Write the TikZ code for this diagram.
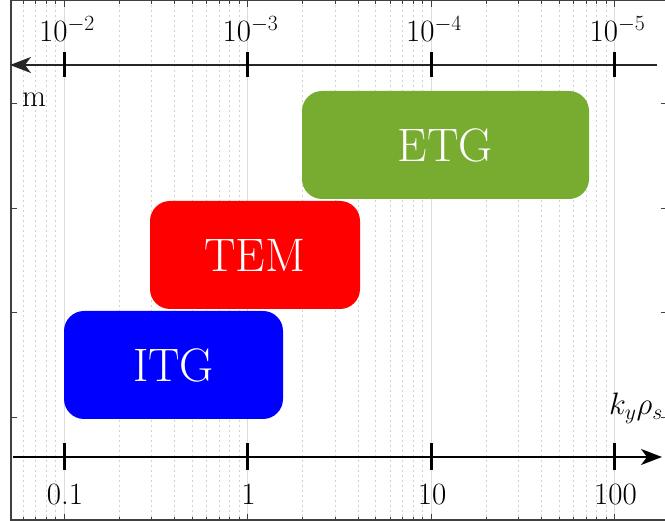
\RequirePackage{fix-cm}
\documentclass[tikz,border=0pt]{standalone}
\usetikzlibrary{arrows.meta}
\definecolor{etggreen}{RGB}{119,172,48}
\begin{document}
\begin{tikzpicture}[x=1pt,y=-1pt,
  gridmajor/.style={draw=black!14, line width=1pt},
  gridminor/.style={draw=black!18, line width=0.9pt, dash pattern=on 2pt off 3pt},
  frameline/.style={draw=black!75, line width=1.3pt},
  axisline/.style={draw=black!85, line width=2pt},
  ticmark/.style={draw=black, line width=3pt},
  lbl/.style={font=\fontsize{31}{37}\selectfont, inner sep=0pt},
  regionbox/.style={rounded corners=20pt, inner sep=0pt, text=white, font=\fontsize{47}{56}\selectfont},
  tiparrow/.style={-{Stealth[length=21pt,width=16pt,inset=6pt]}},
]
\useasboundingbox (0,0) rectangle (665,521);
\clip (0,0) rectangle (665,521);
% grid and frame ticks
\begin{scope}
\clip (11,0) rectangle (667,521);
\foreach \dec in {-119.5,64,247.5,431,614.5}{
  \draw[gridmajor] (\dec,0) -- (\dec,521);
  \draw[frameline,line width=1pt] (\dec,0) -- (\dec,7) (\dec,521) -- (\dec,514);
  \foreach \off in {55.2,87.6,110.5,128.3,142.8,155.1,165.7,175.1}{
    \draw[gridminor] (\dec+\off,0) -- (\dec+\off,521);
    \draw[frameline,line width=1pt] (\dec+\off,0) -- (\dec+\off,4) (\dec+\off,521) -- (\dec+\off,517);
  }
}
\end{scope}
% frame
\draw[frameline] (11,0) rectangle (667,520);
\foreach \yy in {104,209,313,418}{
  \draw[frameline,line width=1pt] (11,\yy) -- (17,\yy) (661,\yy) -- (667,\yy);
}
% boxes
\node[regionbox, fill=blue, minimum width=219pt, minimum height=108pt] (itg) at (173.5,365) {ITG};
\node[regionbox, fill=red, minimum width=210pt, minimum height=108pt] (tem) at (255,255) {TEM};
\node[regionbox, fill=etggreen, minimum width=287pt, minimum height=108pt] (etg) at (445.5,145) {ETG};
% top axis
\coordinate (tl) at (10,65);
\coordinate (tr) at (657,65);
\draw[axisline,tiparrow] (tr) -- (tl);
\foreach \x/\t in {64/-2,247.5/-3,431/-4,614.5/-5}{
  \draw[ticmark] (\x,52) -- (\x,77);
  \node[lbl, anchor=base] at (\x+3,42) {$10^{\t}$};
}
\node[lbl, anchor=base] (unitm) at (34,107) {m};
% bottom axis
\coordinate (bl) at (13,457);
\coordinate (br) at (662,457);
\draw[axisline,draw=black,tiparrow] (bl) -- (br);
\foreach \x/\t in {64/0.1,247.5/1,431/10,614.5/100}{
  \draw[ticmark] (\x,443) -- (\x,470);
  \node[lbl, anchor=base] at (\x+1,505) {\t};
}
\node[lbl, anchor=base] (kyrho) at (636,415) {$k_y\rho_s$};
\end{tikzpicture}
\end{document}
